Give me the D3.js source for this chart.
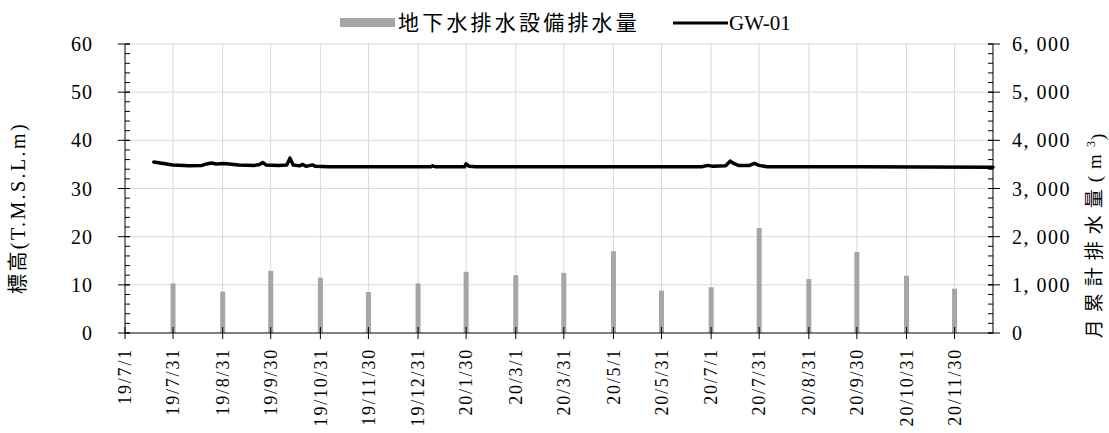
<!doctype html>
<html>
<head>
<meta charset="utf-8">
<script src="https://d3js.org/d3.v7.min.js"></script>
<style>
  body { margin: 0; background: #fff; }
  text { font-family: "Liberation Serif", "Noto Sans CJK JP", serif; fill: #000; }
</style>
</head>
<body>
<div id="chart"></div>
<script>
// x axis tick labels (yy/m/d), Excel date axis with ~30.5 day major unit
var tickLabels = ["19/7/1", "19/7/31", "19/8/31", "19/9/30", "19/10/31", "19/11/30", "19/12/31",
  "20/1/30", "20/3/1", "20/3/31", "20/5/1", "20/5/31", "20/7/1", "20/7/31", "20/8/31",
  "20/9/30", "20/10/31", "20/11/30"];

// monthly drainage volume (m3), plotted at month end
var barDates = ["19/7/31", "19/8/31", "19/9/30", "19/10/31", "19/11/30", "19/12/31",
  "20/1/30", "20/3/1", "20/3/31", "20/5/1", "20/5/31", "20/7/1", "20/7/31", "20/8/31",
  "20/9/30", "20/10/31", "20/11/30"];
var barValues = [1030, 860, 1290, 1150, 850, 1030, 1270, 1200, 1250, 1700, 880, 950, 2180, 1120, 1680, 1190, 920];

// GW-01 water level (T.M.S.L.m)
var gwDates = ["19/7/19", "19/7/25", "19/7/31", "19/8/10", "19/8/18", "19/8/21", "19/8/24", "19/8/27",
  "19/9/1", "19/9/10", "19/9/20", "19/9/23", "19/9/25", "19/9/27", "19/10/5", "19/10/10", "19/10/12",
  "19/10/14", "19/10/18", "19/10/20", "19/10/22", "19/10/26", "19/10/28", "19/11/5", "19/12/1",
  "20/1/8", "20/1/9", "20/1/11", "20/1/29", "20/1/30", "20/2/1", "20/2/5", "20/4/1", "20/6/25",
  "20/6/29", "20/7/2", "20/7/10", "20/7/13", "20/7/15", "20/7/18", "20/7/25", "20/7/28", "20/7/31",
  "20/8/5", "20/10/1", "20/12/24"];
var gwValues = [35.5, 35.2, 34.9, 34.7, 34.8, 35.1, 35.3, 35.1,
  35.2, 34.9, 34.8, 35.0, 35.4, 34.9, 34.8, 34.9, 36.3,
  34.9, 34.7, 35.0, 34.6, 34.9, 34.6, 34.5, 34.5,
  34.5, 34.7, 34.5, 34.5, 35.1, 34.6, 34.5, 34.5, 34.5,
  34.8, 34.6, 34.7, 35.7, 35.2, 34.8, 34.8, 35.2, 34.8,
  34.5, 34.5, 34.4];

var leftTicks = [0, 10, 20, 30, 40, 50, 60];
var rightTicks = [0, 1000, 2000, 3000, 4000, 5000, 6000];

var W = 1109, H = 433;
var margin = {top: 44, right: 116, bottom: 100, left: 125};
var parse = d3.timeParse("%y/%m/%d");

var svg = d3.select("#chart").append("svg")
  .attr("width", W).attr("height", H);

var x = d3.scaleTime()
  .domain([parse("19/7/1"), parse("20/12/24")])
  .range([margin.left, W - margin.right]);
var yL = d3.scaleLinear().domain([0, 60]).range([H - margin.bottom, margin.top]);
var yR = d3.scaleLinear().domain([0, 6000]).range([H - margin.bottom, margin.top]);

var x0 = margin.left, x1 = W - margin.right, yb = H - margin.bottom;

// gridlines
svg.append("g").selectAll("line.h")
  .data(leftTicks.slice(1)).enter().append("line")
  .attr("x1", x0).attr("x2", x1)
  .attr("y1", function(d) { return yL(d); }).attr("y2", function(d) { return yL(d); })
  .attr("stroke", "#d9d9d9").attr("stroke-width", 1);
svg.append("g").selectAll("line.v")
  .data(tickLabels.slice(1)).enter().append("line")
  .attr("x1", function(d) { return x(parse(d)); }).attr("x2", function(d) { return x(parse(d)); })
  .attr("y1", margin.top).attr("y2", yb)
  .attr("stroke", "#d9d9d9").attr("stroke-width", 1);

// bars
svg.append("g").selectAll("rect")
  .data(barDates).enter().append("rect")
  .attr("x", function(d) { return x(parse(d)) - 2.5; })
  .attr("width", 5)
  .attr("y", function(d, i) { return yR(barValues[i]); })
  .attr("height", function(d, i) { return yb - yR(barValues[i]); })
  .attr("fill", "#a6a6a6");

// line
var line = d3.line()
  .x(function(d) { return x(parse(d)); })
  .y(function(d, i) { return yL(gwValues[i]); });
svg.append("path")
  .attr("d", line(gwDates))
  .attr("fill", "none").attr("stroke", "#000").attr("stroke-width", 3.5)
  .attr("stroke-linejoin", "round").attr("stroke-linecap", "round");

// left axis
var gL = svg.append("g");
gL.append("line").attr("x1", x0).attr("x2", x0).attr("y1", margin.top).attr("y2", yb).attr("stroke", "#000");
var minorL = d3.range(0, 61, 2);
gL.selectAll("line.mn").data(minorL).enter().append("line")
  .attr("x1", x0).attr("x2", x0 + 5)
  .attr("y1", function(d) { return yL(d); }).attr("y2", function(d) { return yL(d); })
  .attr("stroke", "#000");
gL.selectAll("line.mj").data(leftTicks).enter().append("line")
  .attr("x1", x0 - 7).attr("x2", x0 + 5)
  .attr("y1", function(d) { return yL(d); }).attr("y2", function(d) { return yL(d); })
  .attr("stroke", "#000");
gL.selectAll("text").data(leftTicks).enter().append("text")
  .attr("x", 93).attr("y", function(d) { return yL(d); })
  .attr("dy", "0.35em").attr("text-anchor", "end")
  .style("font-size", "20px").style("letter-spacing", "1px")
  .text(function(d) { return d; });

// right axis
var gR = svg.append("g");
gR.append("line").attr("x1", x1).attr("x2", x1).attr("y1", margin.top).attr("y2", yb).attr("stroke", "#000");
var minorR = d3.range(0, 6001, 200);
gR.selectAll("line.mn").data(minorR).enter().append("line")
  .attr("x1", x1 - 5).attr("x2", x1)
  .attr("y1", function(d) { return yR(d); }).attr("y2", function(d) { return yR(d); })
  .attr("stroke", "#000");
gR.selectAll("line.mj").data(rightTicks).enter().append("line")
  .attr("x1", x1 - 5).attr("x2", x1 + 7)
  .attr("y1", function(d) { return yR(d); }).attr("y2", function(d) { return yR(d); })
  .attr("stroke", "#000");
gR.selectAll("text").data(rightTicks).enter().append("text")
  .attr("x", 1012).attr("y", function(d) { return yR(d); })
  .attr("dy", "0.35em").attr("text-anchor", "start")
  .style("font-size", "20px").style("letter-spacing", "1.5px")
  .text(function(d) { return d3.format(",")(d).replace(",", ", "); });

// bottom axis
var gB = svg.append("g");
gB.append("line").attr("x1", x0).attr("x2", x1).attr("y1", yb).attr("y2", yb).attr("stroke", "#000");
gB.selectAll("line.t").data(tickLabels).enter().append("line")
  .attr("x1", function(d) { return x(parse(d)); }).attr("x2", function(d) { return x(parse(d)); })
  .attr("y1", yb - 6).attr("y2", yb + 6)
  .attr("stroke", "#000");
gB.selectAll("text").data(tickLabels).enter().append("text")
  .attr("transform", function(d) { return "translate(" + x(parse(d)) + "," + (yb + 15) + ") rotate(-90)"; })
  .attr("dy", "0.35em").attr("text-anchor", "end")
  .style("font-size", "18px").style("letter-spacing", "1.8px")
  .text(function(d) { return d; });

// axis titles
svg.append("text")
  .attr("transform", "translate(18," + 208 + ") rotate(-90)")
  .attr("dy", "0.35em").attr("text-anchor", "middle")
  .style("font-size", "20px").style("letter-spacing", "2.4px")
  .text("標高(T.M.S.L.m)");
var rt = svg.append("text")
  .attr("transform", "translate(1094," + 236 + ") rotate(-90)")
  .attr("dy", "0.35em").attr("text-anchor", "middle")
  .style("font-size", "19px").style("letter-spacing", "7px");
rt.append("tspan").text("月累計排水量(m");
rt.append("tspan").attr("dy", "-0.45em").style("font-size", "12px").style("letter-spacing", "1px").text("3");
rt.append("tspan").attr("dy", "0.45em").style("letter-spacing", "0px").text(")");

// legend
var lg = svg.append("g");
lg.append("rect").attr("x", 340).attr("y", 18).attr("width", 55).attr("height", 9).attr("fill", "#a6a6a6");
lg.append("text").attr("x", 398).attr("y", 23).attr("dy", "0.35em")
  .style("font-size", "21px").style("letter-spacing", "3.2px")
  .text("地下水排水設備排水量");
lg.append("line").attr("x1", 673).attr("x2", 728).attr("y1", 23).attr("y2", 23)
  .attr("stroke", "#000").attr("stroke-width", 3);
lg.append("text").attr("x", 729).attr("y", 23).attr("dy", "0.35em")
  .style("font-size", "21px")
  .text("GW-01");
</script>
</body>
</html>
